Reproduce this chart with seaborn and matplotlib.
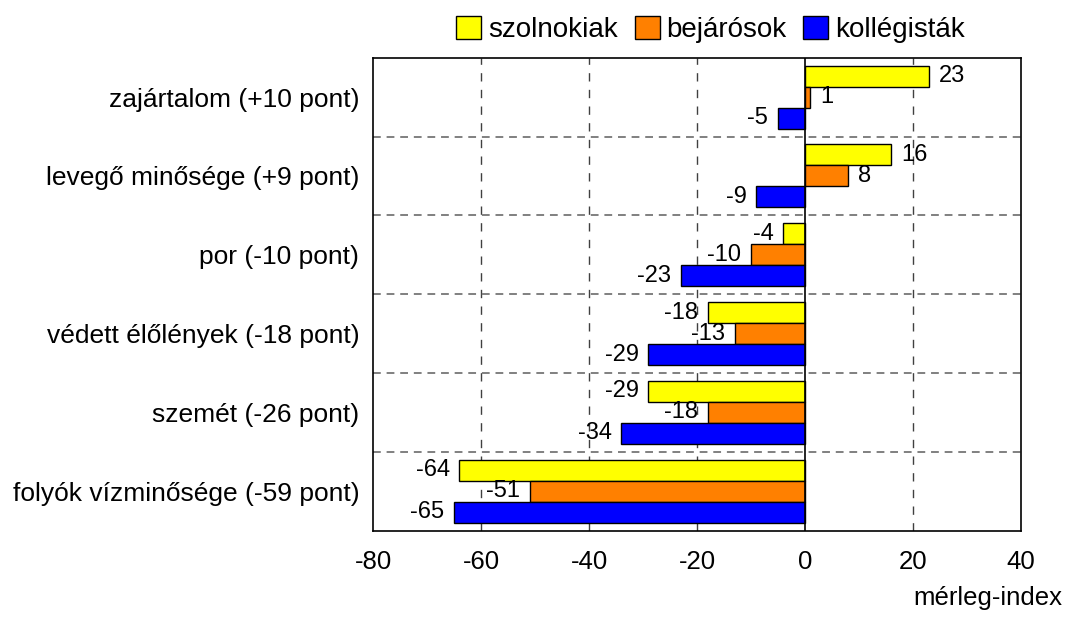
import pandas as pd
import matplotlib
matplotlib.use('Agg')
import matplotlib.pyplot as plt
import seaborn as sns

categories = ['zajártalom (+10 pont)', 'levegő minősége (+9 pont)', 'por (-10 pont)',
              'védett élőlények (-18 pont)', 'szemét (-26 pont)', 'folyók vízminősége (-59 pont)']
groups = ['szolnokiak', 'bejárósok', 'kollégisták']
szolnokiak = [23, 16, -4, -18, -29, -64]
bejarosok = [1, 8, -10, -13, -18, -51]
kollegistak = [-5, -9, -23, -29, -34, -65]
colors = ['#FFFF00', '#FF8000', '#0000FF']
xticks = [-80, -60, -40, -20, 0, 20, 40]

rows = []
for g, vals in zip(groups, [szolnokiak, bejarosok, kollegistak]):
    for c, v in zip(categories, vals):
        rows.append({'kat': c, 'csoport': g, 'ertek': v})
df = pd.DataFrame(rows)

sns.set_style('white')
plt.rcParams['font.family'] = ['Liberation Sans', 'DejaVu Sans']
plt.rcParams['text.color'] = 'black'
plt.rcParams['xtick.color'] = 'black'
plt.rcParams['ytick.color'] = 'black'
plt.rcParams['axes.labelcolor'] = 'black'

fig = plt.figure(figsize=(10.67, 6.19), dpi=100)
ax = fig.add_axes([0.3496, 0.1426, 0.6073, 0.7642])

sns.barplot(data=df, x='ertek', y='kat', hue='csoport', order=categories, hue_order=groups,
            palette=colors, orient='h', width=0.8, edgecolor='black', linewidth=1,
            saturation=1, ax=ax, zorder=3)

for cont in ax.containers:
    ax.bar_label(cont, padding=7, fontsize=17, color='black', zorder=4)

ax.set_xlim(-80, 40)
ax.set_ylim(5.5, -0.5)
ax.set_xticks(xticks)
ax.set_xticklabels([str(t) for t in xticks], fontsize=18.5)
ax.tick_params(axis='x', direction='in', length=8, width=1, pad=14, color='black')
ax.tick_params(axis='y', length=0, pad=10, labelsize=19)
ax.set_xlabel('')
ax.set_ylabel('')

for t in [-60, -40, -20, 20]:
    ax.axvline(t, color='#404040', linestyle=(0, (6, 6)), linewidth=1, zorder=1)
ax.axvline(0, color='black', linewidth=1.2, zorder=5)
for i in range(len(categories) - 1):
    ax.axhline(i + 0.5, color='#808080', linestyle=(0, (4, 3)), linewidth=1.4, zorder=1)

for s in ax.spines.values():
    s.set_visible(True)
    s.set_color('black')
    s.set_linewidth(1.2)

ax.legend(loc='center', bbox_to_anchor=(0.666, 0.953), bbox_transform=fig.transFigure,
          ncol=3, frameon=False, fontsize=20, handlelength=0.9, handleheight=0.9,
          handletextpad=0.25, columnspacing=0.6, borderaxespad=0)

fig.text(0.996, 1 - 605 / 619, 'mérleg-index', ha='right', va='baseline', fontsize=18.5)

fig.savefig('out.png', dpi=100)
